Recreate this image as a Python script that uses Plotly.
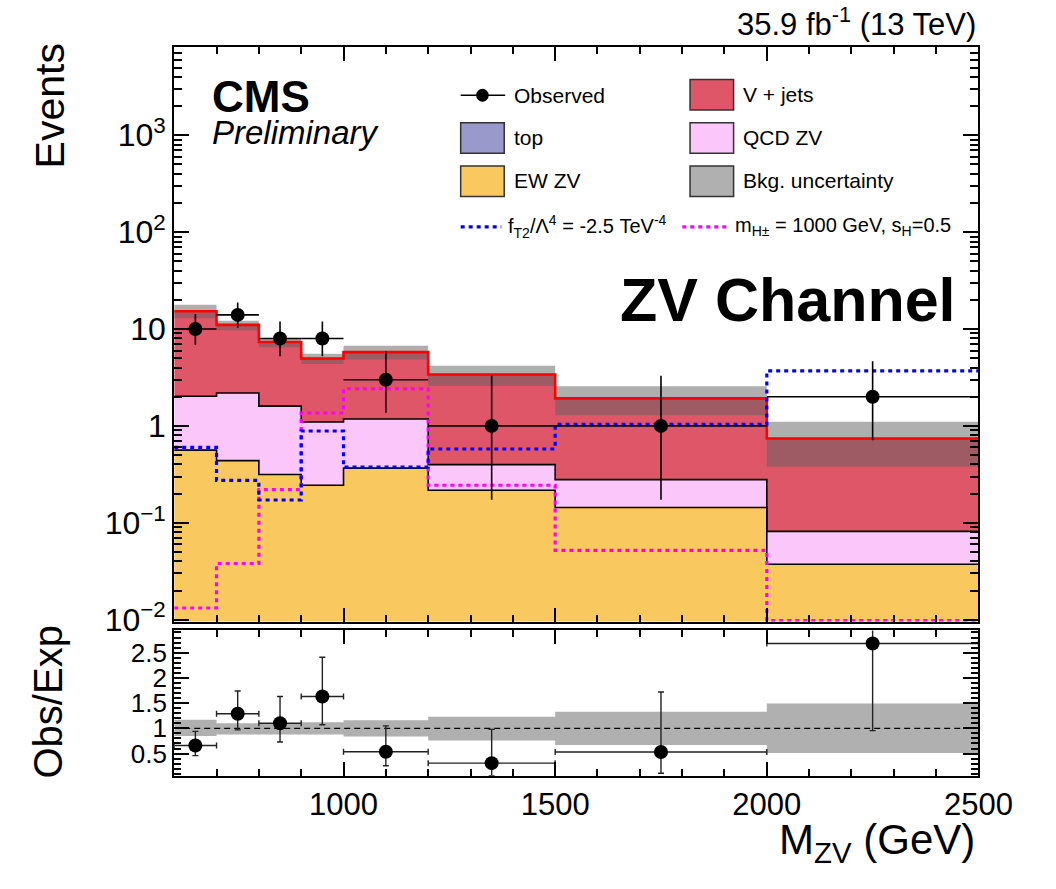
import numpy as np
import plotly.graph_objects as go

# ---------------- data ----------------
bin_edges = [600, 700, 800, 900, 1000, 1200, 1500, 2000, 2500]
ew_zv   = [0.562, 0.438, 0.315, 0.244, 0.367, 0.217, 0.144, 0.0373]
qcd_zv  = [1.46, 1.75, 1.285, 0.852, 0.813, 0.182, 0.135, 0.0442]
top     = [0.0, 0.0, 0.0, 0.0, 0.0, 0.0, 0.0, 0.0]
vjets   = [13.23, 8.86, 5.76, 3.87, 4.60, 2.99, 1.646, 0.66]
unc_up  = [0.17, 0.10, 0.10, 0.12, 0.16, 0.23, 0.33, 0.49]
unc_dn  = [0.15, 0.12, 0.12, 0.12, 0.16, 0.24, 0.33, 0.49]
sig_ft2 = [0.60, 0.274, 0.172, 0.886, 0.375, 0.578, 1.04, 3.70]
sig_hpm = [0.0132, 0.038, 0.22, 1.36, 2.42, 0.244, 0.052, 0.0098]
obs     = [10, 14, 8, 8, 3, 1, 1, 2]
obs_up  = [4.27, 4.8, 3.94, 3.94, 2.92, 2.3, 2.3, 2.64]
obs_dn  = [3.11, 3.7, 2.76, 2.76, 1.63, 0.827, 0.827, 1.29]
ratio    = [0.66, 1.29, 1.10, 1.63, 0.535, 0.31, 0.53, 2.68]
ratio_up = [0.28, 0.45, 0.53, 0.78, 0.515, 0.67, 1.19, 3.3]
ratio_dn = [0.20, 0.32, 0.37, 0.56, 0.275, 0.25, 0.42, 1.725]

W, H = 1056, 889
FONT = "Liberation Sans, Arial, Helvetica, sans-serif"

C_EW = "#f9c95f"
C_QCD = "#fbc6fa"
C_TOP = "#9999cc"
C_VJ = "#de5667"
C_UNC = "rgba(95,95,95,0.50)"
C_UNC_LEG = "#b0b0b0"

edges = np.array(bin_edges, dtype=float)
centers = 0.5 * (edges[:-1] + edges[1:])
halfw = 0.5 * (edges[1:] - edges[:-1])


def stair(vals):
    xs, ys = [], []
    for i, v in enumerate(vals):
        xs += [edges[i], edges[i + 1]]
        ys += [v, v]
    return xs, ys


def band(lower, upper):
    xl, yl = stair(lower)
    xu, yu = stair(upper)
    return xu + xl[::-1], yu + yl[::-1]


ew = np.array(ew_zv)
c_ew = ew
c_qcd = c_ew + np.array(qcd_zv)
c_top = c_qcd + np.array(top)
total = c_top + np.array(vjets)
floor = np.full(len(ew), 1e-4)

fig = go.Figure()

# stacked fills
for lo, hi, col in [(floor, c_ew, C_EW), (c_ew, c_qcd, C_QCD),
                    (c_qcd, c_top, C_TOP), (c_top, total, C_VJ)]:
    bx, by = band(list(lo), list(hi))
    fig.add_trace(go.Scatter(x=bx, y=by, fill="toself", fillcolor=col,
                             line=dict(width=0), mode="lines",
                             hoverinfo="skip", xaxis="x", yaxis="y"))

# black outlines
for arr in [c_ew, c_qcd]:
    sx, sy = stair(list(arr))
    fig.add_trace(go.Scatter(x=sx, y=sy, mode="lines",
                             line=dict(color="black", width=1.6),
                             xaxis="x", yaxis="y"))

# uncertainty band
bx, by = band(list(total * (1 - np.array(unc_dn))), list(total * (1 + np.array(unc_up))))
fig.add_trace(go.Scatter(x=bx, y=by, fill="toself", fillcolor=C_UNC,
                         line=dict(width=0), mode="lines", xaxis="x", yaxis="y"))

# total line
sx, sy = stair(list(total))
fig.add_trace(go.Scatter(x=sx, y=sy, mode="lines",
                         line=dict(color="#ff0000", width=2.6),
                         xaxis="x", yaxis="y"))

# signals
for arr, col in [(sig_hpm, "#ff00ff"), (sig_ft2, "#0000ff")]:
    sx, sy = stair(list(arr))
    fig.add_trace(go.Scatter(x=sx, y=sy, mode="lines",
                             line=dict(color=col, width=3.2, dash="4px,4px"),
                             xaxis="x", yaxis="y"))

# observed
fig.add_trace(go.Scatter(
    x=centers, y=obs, mode="markers",
    marker=dict(color="black", size=14),
    error_x=dict(type="data", array=halfw, width=0, thickness=1.6, color="black"),
    error_y=dict(type="data", symmetric=False, array=obs_up, arrayminus=obs_dn,
                 width=0, thickness=1.6, color="black"),
    xaxis="x", yaxis="y"))

# ---------------- ratio panel ----------------
bx, by = band(list(1 - np.array(unc_dn)), list(1 + np.array(unc_up)))
fig.add_trace(go.Scatter(x=bx, y=by, fill="toself", fillcolor=C_UNC_LEG,
                         line=dict(width=0), mode="lines", xaxis="x2", yaxis="y2"))
fig.add_trace(go.Scatter(x=[edges[0], edges[-1]], y=[1, 1], mode="lines",
                         line=dict(color="black", width=1.3, dash="6px,4px"),
                         xaxis="x2", yaxis="y2"))
fig.add_trace(go.Scatter(
    x=centers, y=ratio, mode="markers",
    marker=dict(color="black", size=14),
    error_x=dict(type="data", array=halfw, width=3, thickness=1.4, color="#222"),
    error_y=dict(type="data", symmetric=False, array=ratio_up, arrayminus=ratio_dn,
                 width=3, thickness=1.4, color="#222"),
    xaxis="x2", yaxis="y2"))


def px(x):
    return x / W


def py(y):
    return 1 - y / H


x_dom = [px(180), px(1011)]


def axis_common(size):
    return dict(showline=True, linecolor="black", linewidth=2, mirror="allticks",
                ticks="inside", tickcolor="black", tickwidth=1.5, showgrid=False,
                zeroline=False, tickfont=dict(family=FONT, size=size, color="black"))


fig.update_layout(
    width=W, height=H, margin=dict(l=0, r=0, t=0, b=0),
    paper_bgcolor="white", plot_bgcolor="white", showlegend=False,
    xaxis=dict(domain=x_dom, range=[600, 2500], anchor="y", tick0=0, dtick=500,
               ticklen=14, showticklabels=False,
               minor=dict(dtick=100, ticks="inside", ticklen=7, tickcolor="black",
                          tickwidth=1.5, showgrid=False),
               **axis_common(31)),
    yaxis=dict(domain=[py(633), py(48)], type="log", range=[-2.02, 3.91], anchor="x",
               tickmode="array", tickvals=[0.01, 0.1, 1, 10, 100, 1000],
               ticktext=["10<sup>−2</sup>", "10<sup>−1</sup>", "1", "10",
                         "10<sup>2</sup>", "10<sup>3</sup>"],
               ticklen=15,
               minor=dict(dtick="D1", ticks="inside", ticklen=8, tickcolor="black",
                          tickwidth=1.5, showgrid=False),
               **axis_common(32)),
    xaxis2=dict(domain=x_dom, range=[600, 2500], anchor="y2", tick0=0, dtick=500,
                ticklen=14,
                minor=dict(dtick=100, ticks="inside", ticklen=7, tickcolor="black",
                           tickwidth=1.5, showgrid=False),
                **axis_common(31)),
    yaxis2=dict(domain=[py(790), py(642)], range=[0.06, 2.94], anchor="x2",
                tickmode="array", tickvals=[0.5, 1, 1.5, 2, 2.5],
                ticktext=["0.5", "1", "1.5", "2", "2.5"], ticklen=15,
                minor=dict(dtick=0.1, tick0=0, ticks="inside", ticklen=7,
                           tickcolor="black", tickwidth=1.5, showgrid=False),
                **axis_common(26)),
)

ann = []
shapes = []


def text(x, y, s, size, xanchor="left", bold=False, italic=False, angle=0):
    f = dict(family=FONT, size=size, color="black")
    if bold:
        f["weight"] = "bold"
    if italic:
        f["style"] = "italic"
    ann.append(dict(x=px(x), y=py(y), xref="paper", yref="paper", text=s,
                    showarrow=False, xanchor=xanchor, yanchor="middle",
                    font=f, textangle=angle))


text(1011, 22, "35.9 fb<sup>-1</sup> (13 TeV)", 31, xanchor="right")
text(217, 98, "CMS", 44, bold=True)
text(217, 135, "Preliminary", 33, italic=True)
text(990, 305, "ZV Channel", 61, xanchor="right", bold=True)
text(52, 108, "Events", 41, xanchor="center", angle=-90)
text(50, 715, "Obs/Exp", 40, xanchor="center", angle=-90)
text(1010, 858, "M<sub>ZV</sub> (GeV)", 42, xanchor="right")

# legend
LF = 21
# Observed
shapes.append(dict(type="line", xref="paper", yref="paper", x0=px(476), x1=px(522),
                   y0=py(97), y1=py(97), line=dict(color="black", width=1.6)))
shapes.append(dict(type="circle", xref="paper", yref="paper", x0=px(492), x1=px(505),
                   y0=py(90.5), y1=py(103.5), fillcolor="black", line=dict(width=0)))
text(529, 97, "Observed", LF)


def box(x0, y0, col, label):
    shapes.append(dict(type="rect", xref="paper", yref="paper", x0=px(x0), x1=px(x0 + 45),
                       y0=py(y0 + 31), y1=py(y0), fillcolor=col,
                       line=dict(color="#333", width=1.5)))
    text(x0 + 53, y0 + 15, label, LF)


box(476, 125, C_TOP, "top")
box(476, 169, C_EW, "EW ZV")
box(713, 81, C_VJ, "V + jets")
box(713, 125, C_QCD, "QCD ZV")
box(713, 169, C_UNC_LEG, "Bkg. uncertainty")

shapes.append(dict(type="line", xref="paper", yref="paper", x0=px(476), x1=px(518),
                   y0=py(231), y1=py(231),
                   line=dict(color="#0000ff", width=3.2, dash="4px,4px")))
text(523, 231, "f<sub>T2</sub>/Λ<sup>4</sup> = -2.5 TeV<sup>-4</sup>", 20)
shapes.append(dict(type="line", xref="paper", yref="paper", x0=px(705), x1=px(751),
                   y0=py(231), y1=py(231),
                   line=dict(color="#ff00ff", width=3.2, dash="4px,4px")))
text(757, 231, "m<sub>H±</sub> = 1000 GeV, s<sub>H</sub>=0.5", 20)

fig.update_layout(annotations=ann, shapes=shapes)
fig.write_html("out.html")
